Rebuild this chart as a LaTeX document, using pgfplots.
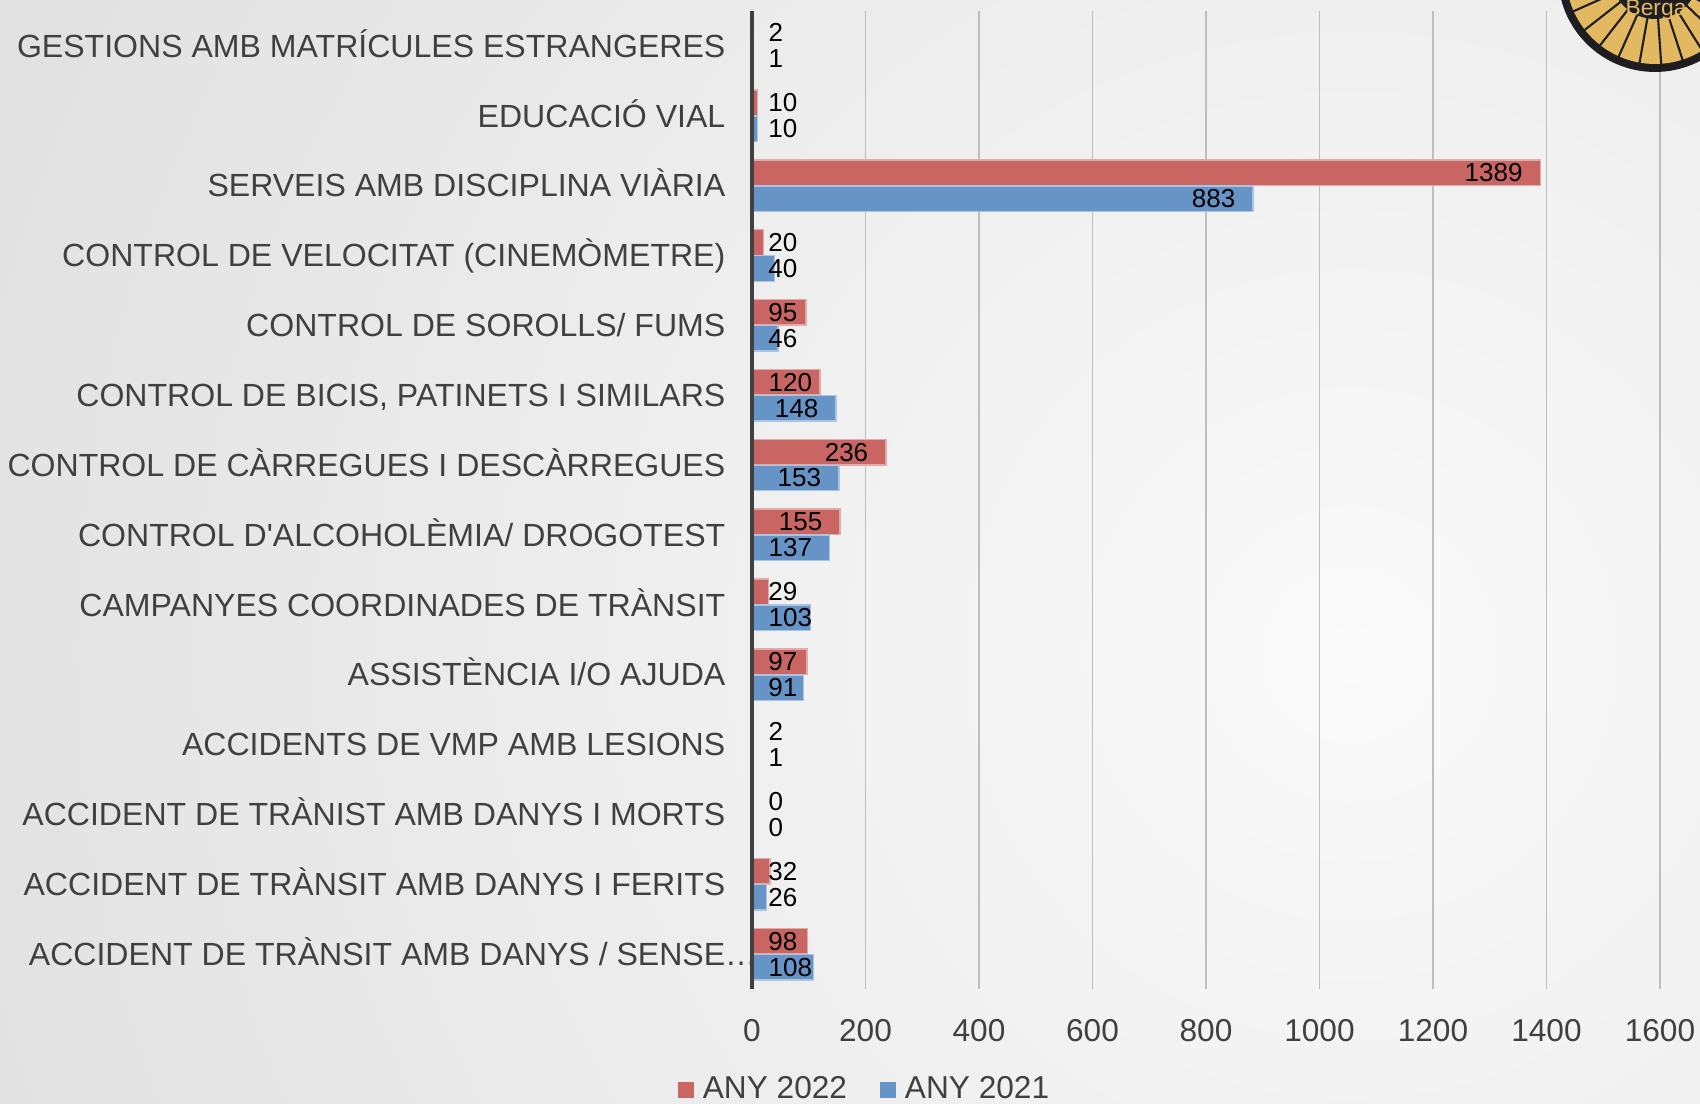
\documentclass[border=0pt]{standalone}
\usepackage{fontspec}
\setmainfont{Liberation Sans}
\usepackage{pgfplots}
\pgfplotsset{compat=1.18}
\usepackage{pgfplotstable}
\definecolor{barred}{RGB}{201,102,99}
\definecolor{barblue}{RGB}{103,148,199}
\definecolor{textgray}{RGB}{64,64,64}
\definecolor{gridgray}{RGB}{190,190,190}
\definecolor{bgin}{RGB}{250,250,250}
\definecolor{bgout}{RGB}{196,196,196}
\definecolor{logodark}{RGB}{30,30,34}
\definecolor{logogold}{RGB}{226,184,96}

% idx: 0 = top category; v22 = ANY 2022, v21 = ANY 2021
% lx: right edge of the value label (inside end, or just right of the axis for short bars)
\pgfplotstableread{
idx v22 v21 lx22 lx21
0 2 1 56 56
1 10 10 81 81
2 1389 883 1359 853
3 20 40 81 81
4 95 46 81 81
5 120 148 107 118
6 236 153 206 123
7 155 137 125 107
8 29 103 81 107
9 97 91 81 81
10 2 1 56 56
11 0 0 56 56
12 32 26 81 81
13 98 108 81 107
}\datatable

\begin{document}
\begin{tikzpicture}
\useasboundingbox (0,0) rectangle (170mm,110.4mm);
\begin{scope}
\clip (0,0) rectangle (170mm,110.4mm);
\shade[inner color=bgin, outer color=bgout] (135mm,45mm) circle (320mm);
\end{scope}

\begin{axis}[
  at={(75.2mm,11.5mm)}, anchor=south west,
  width=90.8mm, height=97.8mm, scale only axis,
  xmin=0, xmax=1600, ymin=-0.5, ymax=13.5,
  xtick={0,200,...,1600}, ytick={0,...,13},
  yticklabels={
    ACCIDENT DE TRÀNSIT AMB DANYS / SENSE\rlap{…},
    ACCIDENT DE TRÀNSIT AMB DANYS I FERITS,
    ACCIDENT DE TRÀNIST AMB DANYS I MORTS,
    ACCIDENTS DE VMP AMB LESIONS,
    ASSISTÈNCIA I/O AJUDA,
    CAMPANYES COORDINADES DE TRÀNSIT,
    CONTROL D\textquotesingle ALCOHOLÈMIA/ DROGOTEST,
    CONTROL DE CÀRREGUES I DESCÀRREGUES,
    {CONTROL DE BICIS, PATINETS I SIMILARS},
    CONTROL DE SOROLLS/ FUMS,
    CONTROL DE VELOCITAT (CINEMÒMETRE),
    SERVEIS AMB DISCIPLINA VIÀRIA,
    EDUCACIÓ VIAL,
    GESTIONS AMB MATRÍCULES ESTRANGERES},
  axis line style={draw=none},
  major tick length=0pt,
  xmajorgrids, major grid style={gridgray, line width=0.45pt},
  tick label style={text=textgray, font=\fontsize{9}{10.8}\selectfont, inner sep=0pt},
  xticklabel style={anchor=north, yshift=-3mm},
  yticklabel style={anchor=base east, xshift=-2.6mm, yshift=-3.2pt, font=\fontsize{9.12}{10.9}\selectfont},
  /pgf/number format/assume math mode=true,
  /pgf/number format/1000 sep={},
  scaled x ticks=false,
  clip=false,
  legend style={at={(0.1229,-0.1033)}, anchor=center, draw=none, fill=none,
    /tikz/every even column/.append style={column sep=3.3mm},
    /tikz/every odd column/.append style={column sep=0.9mm},
    nodes={inner sep=0pt, text=textgray, font=\fontsize{9}{10.8}\selectfont}},
  legend columns=2, legend cell align=left,
]
\addplot[xbar, bar width=2.55mm, bar shift=0pt, fill=barred, draw=barred!55!white, line width=0.4pt,
  legend image code/.code={\fill[barred] (0mm,-0.75mm) rectangle (1.45mm,0.75mm);}]
  table[x=v22, y expr=13-\thisrow{idx}+0.186] {\datatable};
\addlegendentry{ANY 2022}
\addplot[xbar, bar width=2.55mm, bar shift=0pt, fill=barblue, draw=barblue!55!white, line width=0.4pt,
  legend image code/.code={\fill[barblue] (0mm,-0.75mm) rectangle (1.45mm,0.75mm);}]
  table[x=v21, y expr=13-\thisrow{idx}-0.186] {\datatable};
\addlegendentry{ANY 2021}

\addplot[draw=none, mark=none, forget plot, nodes near coords, point meta=explicit symbolic,
  every node near coord/.append style={anchor=east, inner sep=0pt, text=black, font=\fontsize{7.4}{8.9}\selectfont}]
  table[x=lx22, y expr=13-\thisrow{idx}+0.186, meta=v22] {\datatable};
\addplot[draw=none, mark=none, forget plot, nodes near coords, point meta=explicit symbolic,
  every node near coord/.append style={anchor=east, inner sep=0pt, text=black, font=\fontsize{7.4}{8.9}\selectfont}]
  table[x=lx21, y expr=13-\thisrow{idx}-0.186, meta=v21] {\datatable};

\draw[textgray, line width=0.9pt] (rel axis cs:0,0) -- (rel axis cs:0,1);
\end{axis}

\begin{scope}
\clip (0,0) rectangle (170mm,110.4mm);
\fill[logodark] (165.5mm,112.9mm) circle (9.7mm);
\fill[logogold] (165.5mm,112.9mm) circle (8.9mm);
\foreach \a in {190,204,...,350}
  \draw[logodark, line width=0.6pt] ([shift={(\a:4.3mm)}]165.5mm,112.9mm) -- ([shift={(\a:8.95mm)}]165.5mm,112.9mm);
\fill[logodark] (165.5mm,112.9mm) circle (4.4mm);
\node[text=logogold, font=\fontsize{6.5}{7.5}\selectfont] at (165.6mm,109.4mm) {Berga};
\end{scope}
\end{tikzpicture}
\end{document}
